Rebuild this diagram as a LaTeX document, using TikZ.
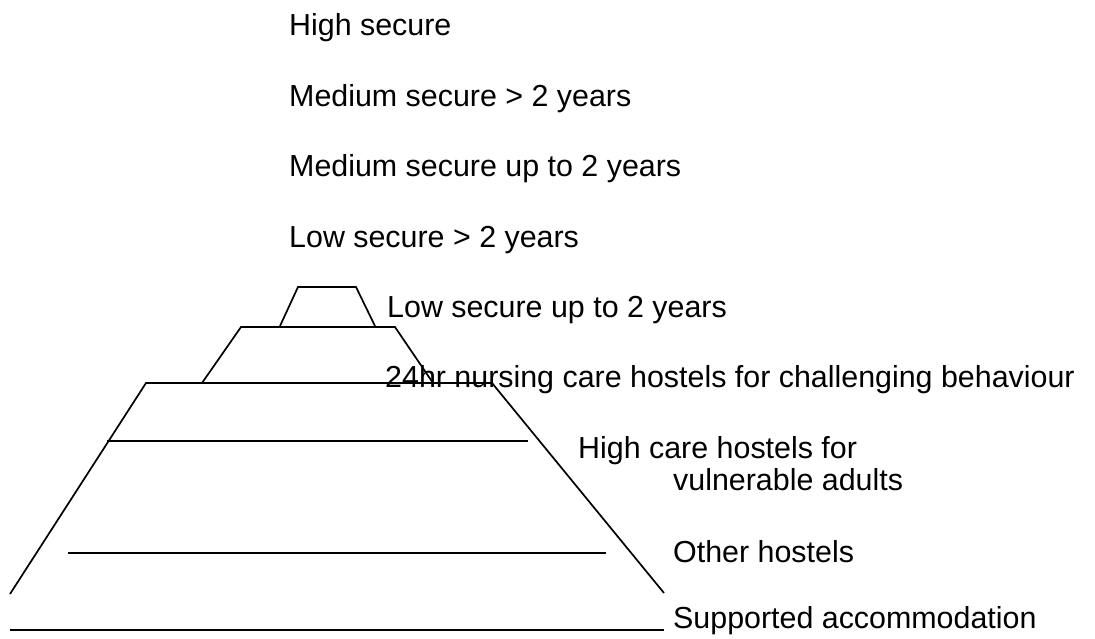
\documentclass[tikz,border=0pt]{standalone}
\usepackage{fontspec}
\setmainfont{Liberation Sans}
\begin{document}
\begin{tikzpicture}[x=1pt,y=-1pt,
  lbl/.style={anchor=base west,inner sep=0pt,font=\fontsize{30.4}{36}\selectfont},
  tier/.style={line width=1.7pt,line join=miter}]
\useasboundingbox (0,0) rectangle (1095,638);

% pyramid outline
\draw[tier] (280,326) -- (298,287) -- (356,287) -- (375,326);
\draw[tier] (202,383) -- (241,327) -- (395,327) -- (433,383);
\draw[tier] (10,594) -- (146,383) -- (492,383) -- (664,593);

% inner level lines
\draw[tier] (107,441) -- (528,441);
\draw[tier] (68,553) -- (606,553);
\draw[tier] (10,630) -- (664,630);

% level labels
\node[lbl] (hs)  at (289,35)  {High secure};
\node[lbl] (ms2) at (289,106) {Medium secure > 2 years};
\node[lbl] (msu) at (289,176) {Medium secure up to 2 years};
\node[lbl] (ls2) at (289,247) {Low secure > 2 years};
\node[lbl] (lsu) at (387,317) {Low secure up to 2 years};
\node[lbl] (nur) at (385,387) {24hr nursing care hostels for challenging behaviour};
\node[lbl] (hc1) at (578,458) {High care hostels for};
\node[lbl] (hc2) at (673,490) {vulnerable adults};
\node[lbl] (oth) at (673,562) {Other hostels};
\node[lbl] (sup) at (673,628) {Supported accommodation};
\end{tikzpicture}
\end{document}
